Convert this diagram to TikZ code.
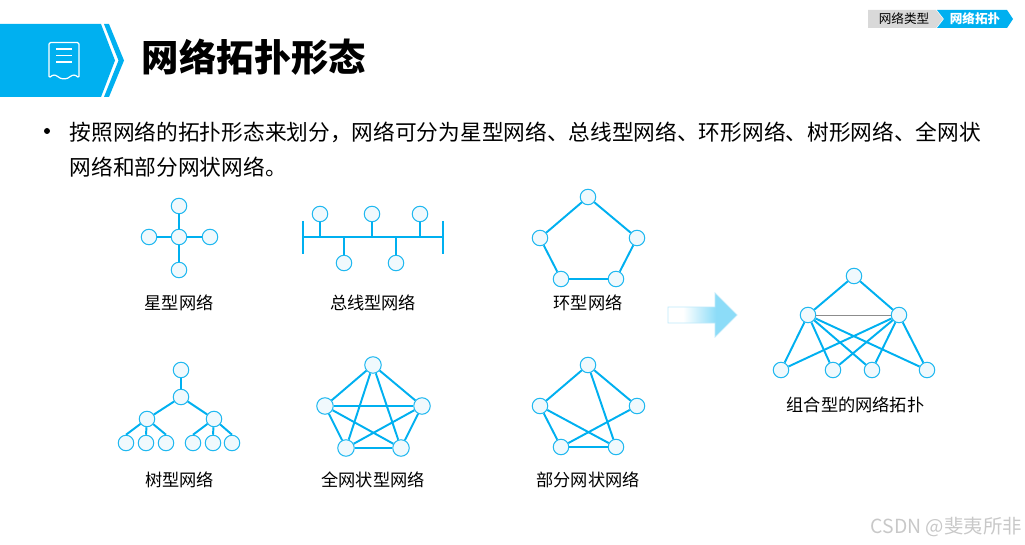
\documentclass[tikz,border=0pt]{standalone}
\usepackage{fontspec}
\usepackage{xcolor}
\usepackage{tikz}
\usetikzlibrary{positioning}
\setmainfont{Noto Sans CJK SC}
\definecolor{primary}{RGB}{0, 176, 240}
\definecolor{nodefill}{RGB}{240, 249, 253}
\definecolor{nodeline}{RGB}{32, 184, 240}
\definecolor{tabgray}{RGB}{217, 217, 217}
\definecolor{arrowblue}{RGB}{140, 220, 248}
\definecolor{arrowedge}{RGB}{190, 233, 250}
\definecolor{marktext}{RGB}{200, 200, 200}
\pgfdeclarehorizontalshading{arrowfade}{100bp}{color(0bp)=(white); color(36bp)=(white); color(60bp)=(arrowblue); color(100bp)=(arrowblue)}

\begin{document}
\begin{tikzpicture}[
    x=1pt, y=-1pt, on grid,
    host/.style={circle, draw=nodeline, fill=nodefill, line width=1.05pt, inner sep=0pt, minimum size=15.5pt},
    bighost/.style={host, minimum size=16.5pt},
    link/.style={draw=primary, line width=1.95pt},
    thinlink/.style={draw=black!45, line width=0.7pt},
    caption/.style={inner sep=0pt, font=\fontsize{17.2}{20}\selectfont},
    tablabel/.style={inner sep=0pt, font=\fontsize{12.6}{14}\selectfont}
]
    \useasboundingbox (0,0) rectangle (1025,545);

    % Header
    \fill[primary] (0,24) -- (101,24) -- (115,60.5) -- (101,97) -- (0,97) -- cycle;
    \fill[primary] (104,24) -- (109,24) -- (124,60.5) -- (109,97) -- (104,97) -- (118.5,60.5) -- cycle;
    \draw[white, line width=1.2pt, rounded corners=1.5pt, line join=round] (49,78) -- (49,42.5) -- (79,42.5) -- (79,78)
        .. controls (75,74.5) and (73,74.5) .. (69,77.5) .. controls (66,79) and (62,79) .. (59,77.5)
        .. controls (55,74.5) and (53,74.5) .. (49,78) -- cycle;
    \draw[white, line width=1.2pt] (56,49) -- (72,49) (56,55.5) -- (72,55.5) (56,62) -- (72,62);
    \node[inner sep=0pt, font=\fontsize{37.4}{40}\bfseries\selectfont] (title) at (254,57) {网络拓扑形态};

    % Tabs
    \fill[tabgray] (868,10) -- (936,10) -- (943,19) -- (936,28) -- (868,28) -- cycle;
    \fill[primary] (937,10) -- (1007,10) -- (1013,19) -- (1007,28) -- (937,28) -- (944,19) -- cycle;
    \node[tablabel] (tabtype) at (904,18.5) {网络类型};
    \node[tablabel, text=white, font=\fontsize{12.6}{14}\bfseries\selectfont] (tabtopo) at (975,18.5) {网络拓扑};

    % Body text
    \node[circle, fill=black, inner sep=0pt, minimum size=6pt] (bullet) at (47,131) {};
    \node[anchor=west, align=left, inner sep=0pt, font=\fontsize{21.7}{35}\selectfont] (body) at (69.5,149.2)
        {按照网络的拓扑形态来划分，网络可分为星型网络、总线型网络、环形网络、树形网络、全网状\\网络和部分网状网络。};

    % Star
    \node[host] (starhub) at (179,237) {};
    \node[host, above=31pt of starhub] (startop) {};
    \node[host, left=30pt of starhub] (starleft) {};
    \node[host, right=31pt of starhub] (starright) {};
    \node[host, below=33pt of starhub] (starbottom) {};
    \node[caption, below=32.4pt of starbottom] (starcaption) {星型网络};
    \draw[link] (starhub) -- (startop);
    \draw[link] (starhub) -- (starleft);
    \draw[link] (starhub) -- (starright);
    \draw[link] (starhub) -- (starbottom);

    % Bus
    \coordinate (busleft) at (303,237);
    \coordinate (busright) at (443,237);
    \node[host] (busa) at (320,214) {};
    \node[host, right=52pt of busa] (busb) {};
    \node[host, right=48pt of busb] (busc) {};
    \node[host] (busd) at (344,263) {};
    \node[host, right=52pt of busd] (buse) {};
    \node[caption] (buscaption) at (373,302.4) {总线型网络};
    \draw[link] (busleft) -- (busright);
    \draw[link] ([yshift=16pt]busleft) -- ([yshift=-17pt]busleft);
    \draw[link] ([yshift=16pt]busright) -- ([yshift=-17pt]busright);
    \draw[link] (busa) -- (busa |- busleft);
    \draw[link] (busb) -- (busb |- busleft);
    \draw[link] (busc) -- (busc |- busleft);
    \draw[link] (busd) -- (busd |- busleft);
    \draw[link] (buse) -- (buse |- busleft);

    % Ring
    \node[host] (ringtop) at (588,197) {};
    \node[host, below left=41pt and 48pt of ringtop] (ringleft) {};
    \node[host, below right=41pt and 49pt of ringtop] (ringright) {};
    \node[host, below right=41pt and 21pt of ringleft] (ringbl) {};
    \node[host, below left=41pt and 21pt of ringright] (ringbr) {};
    \node[caption] (ringcaption) at (588,302.4) {环型网络};
    \draw[link] (ringtop) -- (ringleft);
    \draw[link] (ringtop) -- (ringright);
    \draw[link] (ringleft) -- (ringbl);
    \draw[link] (ringright) -- (ringbr);
    \draw[link] (ringbl) -- (ringbr);

    % Tree
    \node[host] (treeroot) at (181,370) {};
    \node[host, below=27pt of treeroot] (treemid) {};
    \node[host, below left=22pt and 34pt of treemid] (treeleft) {};
    \node[host, below right=22pt and 33pt of treemid] (treeright) {};
    \node[host, below left=24pt and 21pt of treeleft] (leafa) {};
    \node[host, below left=24pt and 1pt of treeleft] (leafb) {};
    \node[host, below right=24pt and 19pt of treeleft] (leafc) {};
    \node[host, below left=24pt and 21pt of treeright] (leafd) {};
    \node[host, below left=24pt and 1pt of treeright] (leafe) {};
    \node[host, below right=24pt and 18pt of treeright] (leaff) {};
    \node[caption] (treecaption) at (179.5,480.2) {树型网络};
    \draw[link] (treeroot) -- (treemid);
    \draw[link] (treemid) -- (treeleft);
    \draw[link] (treemid) -- (treeright);
    \draw[link] (treeleft) -- (leafa.north);
    \draw[link] (treeleft) -- (leafb.north);
    \draw[link] (treeleft) -- (leafc.north);
    \draw[link] (treeright) -- (leafd.north);
    \draw[link] (treeright) -- (leafe.north);
    \draw[link] (treeright) -- (leaff.north);

    % Full mesh
    \node[bighost] (fulltop) at (373,365) {};
    \node[bighost, below left=41pt and 48pt of fulltop] (fullleft) {};
    \node[bighost, below right=41pt and 49pt of fulltop] (fullright) {};
    \node[bighost, below right=42pt and 21pt of fullleft] (fullbl) {};
    \node[bighost, below left=42pt and 21pt of fullright] (fullbr) {};
    \node[caption] (fullcaption) at (373,480.2) {全网状型网络};
    \draw[link] (fulltop) -- (fullleft);
    \draw[link] (fulltop) -- (fullright);
    \draw[link] (fulltop) -- (fullbl);
    \draw[link] (fulltop) -- (fullbr);
    \draw[link] (fullleft) -- (fullright);
    \draw[link] (fullleft) -- (fullbl);
    \draw[link] (fullleft) -- (fullbr);
    \draw[link] (fullright) -- (fullbl);
    \draw[link] (fullright) -- (fullbr);
    \draw[link] (fullbl) -- (fullbr);

    % Partial mesh
    \node[host] (parttop) at (588,365) {};
    \node[host, below left=41pt and 48pt of parttop] (partleft) {};
    \node[host, below right=41pt and 49pt of parttop] (partright) {};
    \node[host, below right=41pt and 21pt of partleft] (partbl) {};
    \node[host, below left=41pt and 21pt of partright] (partbr) {};
    \node[caption] (partcaption) at (588,480.2) {部分网状网络};
    \draw[link] (parttop) -- (partleft);
    \draw[link] (parttop) -- (partright);
    \draw[link] (parttop) -- (partbr);
    \draw[link] (partleft) -- (partbl);
    \draw[link] (partleft) -- (partbr);
    \draw[link] (partright) -- (partbl);
    \draw[link] (partbl) -- (partbr);

    % Block arrow
    \shadedraw[shading=arrowfade, draw=arrowedge, line width=0.7pt]
        (668,307) -- (715,307) -- (715,293) -- (737,315) -- (715,337) -- (715,323) -- (668,323) -- cycle;

    % Combined
    \node[host] (combtop) at (854,276) {};
    \node[host, below left=39pt and 46pt of combtop] (combleft) {};
    \node[host, below right=39pt and 45pt of combtop] (combright) {};
    \node[host] (comba) at (781,370) {};
    \node[host, right=52pt of comba] (combb) {};
    \node[host, right=39pt of combb] (combc) {};
    \node[host, right=55pt of combc] (combd) {};
    \node[caption] (combcaption) at (855.5,405.2) {组合型的网络拓扑};
    \draw[link] (combtop) -- (combleft);
    \draw[link] (combtop) -- (combright);
    \draw[thinlink] (combleft) -- (combright);
    \draw[link] (combleft) -- (comba);
    \draw[link] (combleft) -- (combb);
    \draw[link] (combleft) -- (combc);
    \draw[link] (combleft) -- (combd);
    \draw[link] (combright) -- (comba);
    \draw[link] (combright) -- (combb);
    \draw[link] (combright) -- (combc);
    \draw[link] (combright) -- (combd);

    % Watermark
    \node[anchor=east, inner sep=0pt, text=marktext, font=\fontsize{19.4}{22}\selectfont] (watermark) at (1022,527.5) {CSDN @斐夷所非};

\end{tikzpicture}
\end{document}
